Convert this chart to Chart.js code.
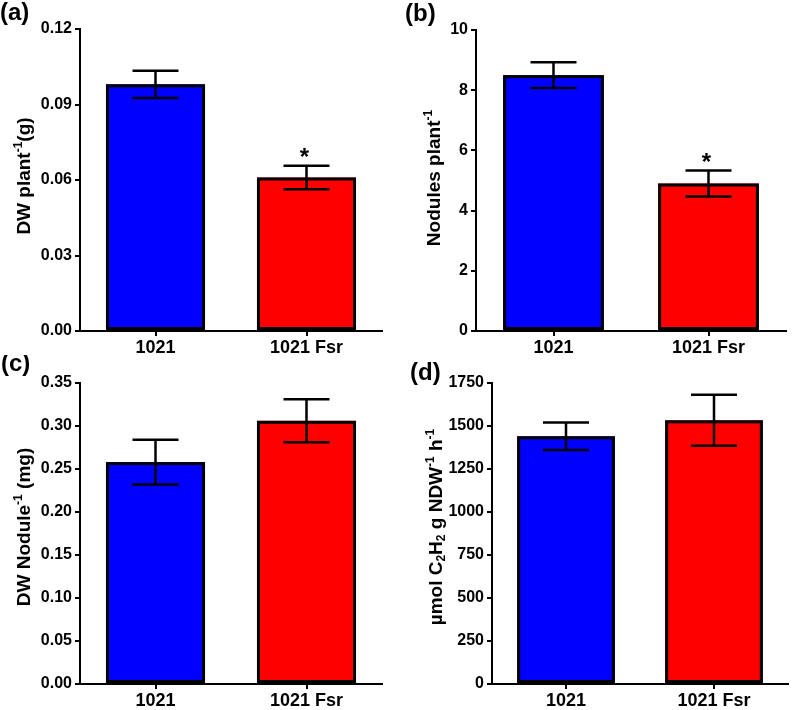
<!DOCTYPE html>
<html>
<head>
<meta charset="utf-8">
<script src="https://cdn.jsdelivr.net/npm/chart.js@4.4.1/dist/chart.umd.min.js"></script>
<style>
  body { margin: 0; background: #fff; }
  #wrap { position: relative; width: 792px; height: 710px; }
  canvas { position: absolute; }
</style>
</head>
<body>
<div id="wrap">
  <canvas id="cA" width="395" height="355" style="left:0;top:0"></canvas>
  <canvas id="cB" width="397" height="355" style="left:395px;top:0"></canvas>
  <canvas id="cC" width="395" height="355" style="left:0;top:355px"></canvas>
  <canvas id="cD" width="397" height="355" style="left:395px;top:355px"></canvas>
</div>
<script>
// categories and values
var categories = ['1021', '1021 Fsr'];
var barColors = ['#0000FF', '#FF0000'];

var dwPlant = [0.098, 0.061];
var dwPlantErr = [0.0054, 0.0047];
var dwPlantStars = ['', '*'];

var nodulesPlant = [8.5, 4.9];
var nodulesPlantErr = [0.43, 0.43];
var nodulesPlantStars = ['', '*'];

var dwNodule = [0.258, 0.306];
var dwNoduleErr = [0.026, 0.025];
var dwNoduleStars = ['', ''];

var arActivity = [1440, 1533];
var arActivityErr = [80, 148];
var arActivityStars = ['', ''];

// y axis ranges
var yMaxA = 0.12, yStepA = 0.03;
var yMaxB = 10, yStepB = 2;
var yMaxC = 0.35, yStepC = 0.05;
var yMaxD = 1750, yStepD = 250;

var FONT = "'Liberation Sans', Arial, sans-serif";

// bar outlines, error bars, stars, panel letter and the rotated y title
var extrasPlugin = {
    id: 'extras',
    afterDatasetsDraw: function(chart) {
        var ctx = chart.ctx;
        var o = chart.options.plugins.extras;
        var meta = chart.getDatasetMeta(0);
        var y = chart.scales.y;
        ctx.save();
        ctx.strokeStyle = '#000';
        meta.data.forEach(function(bar, i) {
            // outline (stroked here to avoid the seam of the built-in border)
            var p = bar.getProps(['x', 'y', 'base', 'width']);
            ctx.lineWidth = 3;
            ctx.strokeRect(p.x - p.width / 2 + 1.5, p.y + 1.5, p.width - 3, p.base - p.y - 3);

            var v = o.values[i], e = o.errors[i];
            var yt = y.getPixelForValue(v + e);
            var yb = y.getPixelForValue(v - e);
            var cx = p.x;
            ctx.lineWidth = 2.5;
            ctx.beginPath();
            ctx.moveTo(cx, yt); ctx.lineTo(cx, yb);
            ctx.moveTo(cx - 23, yt); ctx.lineTo(cx + 23, yt);
            ctx.moveTo(cx - 23, yb); ctx.lineTo(cx + 23, yb);
            ctx.stroke();
            if (o.stars[i]) {
                ctx.fillStyle = '#000';
                ctx.font = 'bold 24px ' + FONT;
                ctx.textAlign = 'center';
                ctx.textBaseline = 'alphabetic';
                ctx.fillText(o.stars[i], cx - 2, yt - 1);
            }
        });
        ctx.restore();
    },
    afterDraw: function(chart) {
        var ctx = chart.ctx;
        var o = chart.options.plugins.extras;
        ctx.save();
        ctx.fillStyle = '#000';
        ctx.font = 'bold 24px ' + FONT;
        ctx.textAlign = 'left';
        ctx.textBaseline = 'middle';
        ctx.fillText(o.letter, o.letterX, o.letterY);

        // rotated axis title
        var parts = o.title;
        var big = 'bold 19px ' + FONT, small = 'bold 12px ' + FONT;
        var total = 0;
        parts.forEach(function(p) {
            ctx.font = p.s ? small : big;
            total += ctx.measureText(p.t).width;
        });
        ctx.translate(o.titleX, o.titleY);
        ctx.rotate(-Math.PI / 2);
        ctx.textAlign = 'left';
        ctx.textBaseline = 'middle';
        var x = -total / 2;
        parts.forEach(function(p) {
            ctx.font = p.s ? small : big;
            var dy = p.s === 'sup' ? -6 : (p.s === 'sub' ? 5 : 0);
            ctx.fillText(p.t, x, dy);
            x += ctx.measureText(p.t).width;
        });
        ctx.restore();
    }
};

function createPanel(id, values, errors, stars, yMax, yStep, decimals, layout, extras) {
    extras.values = values;
    extras.errors = errors;
    extras.stars = stars;
    var ctx = document.getElementById(id).getContext('2d');
    return new Chart(ctx, {
        type: 'bar',
        data: {
            labels: categories,
            datasets: [{
                data: values,
                backgroundColor: barColors,
                borderWidth: 0,
                barPercentage: layout.bar,
                categoryPercentage: 1
            }]
        },
        options: {
            responsive: false,
            animation: false,
            devicePixelRatio: 1,
            layout: { padding: { top: layout.top, right: layout.right, left: 0, bottom: 0 } },
            plugins: {
                legend: { display: false },
                tooltip: { enabled: false },
                extras: extras
            },
            scales: {
                x: {
                    afterFit: function(s) { s.height = layout.bottom; },
                    grid: { offset: false, drawOnChartArea: false, drawTicks: true, tickLength: 5, color: '#000', lineWidth: 2 },
                    border: { display: true, color: '#000', width: 2 },
                    ticks: { color: '#000', padding: 1, font: { family: FONT, size: 18, weight: 'bold' } }
                },
                y: {
                    min: 0,
                    max: yMax,
                    afterFit: function(s) { s.width = layout.left; },
                    grid: { drawOnChartArea: false, drawTicks: true, tickLength: 5, color: '#000', lineWidth: 2 },
                    border: { display: true, color: '#000', width: 2 },
                    ticks: {
                        stepSize: yStep,
                        color: '#000',
                        padding: 3,
                        font: { family: FONT, size: 16, weight: 'bold' },
                        callback: function(v) { return v.toFixed(decimals); }
                    }
                }
            }
        },
        plugins: [extrasPlugin]
    });
}

createPanel('cA', dwPlant, dwPlantErr, dwPlantStars, yMaxA, yStepA, 2,
    { left: 80, top: 29, right: 13, bottom: 24, bar: 0.656 },
    { letter: '(a)', letterX: 0, letterY: 13, titleX: 25, titleY: 176,
      title: [{ t: 'DW plant' }, { t: '-1', s: 'sup' }, { t: '(g)' }] });

createPanel('cB', nodulesPlant, nodulesPlantErr, nodulesPlantStars, yMaxB, yStepB, 0,
    { left: 81, top: 30, right: 6, bottom: 24, bar: 0.65 },
    { letter: '(b)', letterX: 10, letterY: 14, titleX: 40, titleY: 178,
      title: [{ t: 'Nodules plant' }, { t: '-1', s: 'sup' }] });

createPanel('cC', dwNodule, dwNoduleErr, dwNoduleStars, yMaxC, yStepC, 2,
    { left: 80, top: 28, right: 13, bottom: 26, bar: 0.656 },
    { letter: '(c)', letterX: 1, letterY: 9, titleX: 25, titleY: 172,
      title: [{ t: 'DW Nodule' }, { t: '-1', s: 'sup' }, { t: ' (mg)' }] });

createPanel('cD', arActivity, arActivityErr, arActivityStars, yMaxD, yStepD, 0,
    { left: 97, top: 28, right: 4, bottom: 26, bar: 0.66 },
    { letter: '(d)', letterX: 15, letterY: 18, titleX: 42, titleY: 172,
      title: [{ t: '\u00b5mol C' }, { t: '2', s: 'sub' }, { t: 'H' }, { t: '2', s: 'sub' },
              { t: ' g NDW' }, { t: '-1', s: 'sup' }, { t: ' h' }, { t: '-1', s: 'sup' }] });
</script>
</body>
</html>
